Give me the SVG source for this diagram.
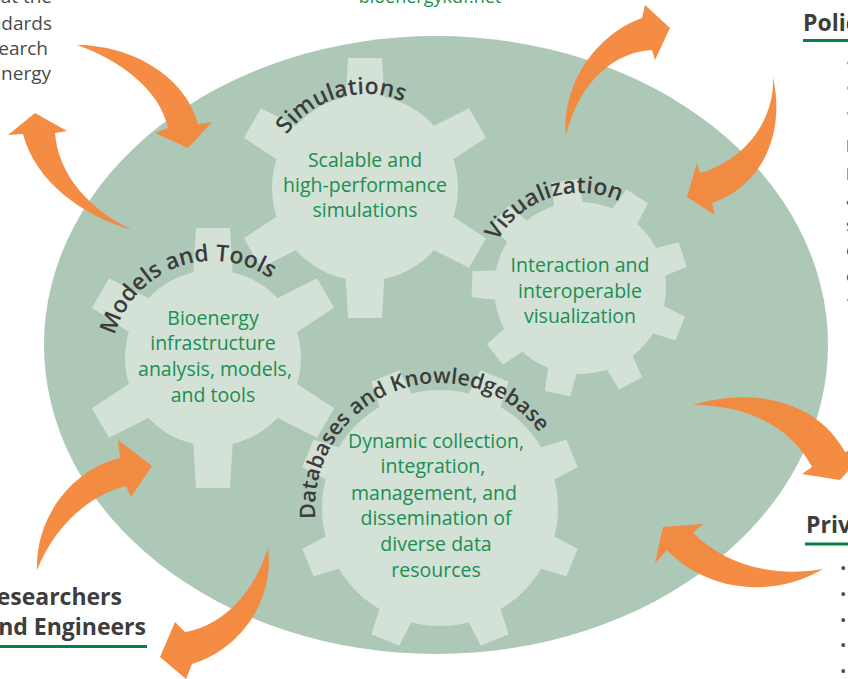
<svg xmlns="http://www.w3.org/2000/svg" xmlns:xlink="http://www.w3.org/1999/xlink" width="848" height="679" viewBox="0 0 848 679">
<style>
.gear{fill:#d3e1d7}
.arrow{fill:#f4883e;fill-opacity:0.97}
.body{font-family:"Open Sans","Noto Sans",sans-serif;font-size:19.5px;fill:#1b8f4f;text-anchor:middle}
.lbl{font-family:"Open Sans","Noto Sans",sans-serif;font-size:23px;font-weight:600;fill:#3b3b3b;text-anchor:middle}
.side{font-family:"Open Sans","Noto Sans",sans-serif;font-size:19px;fill:#4a4a4a}
.head{font-family:"Open Sans","Noto Sans",sans-serif;font-size:23px;font-weight:700;fill:#3d3d3d}
.rule{stroke:#0b8046;stroke-width:3}
</style>
<defs>
<polygon id="tS" points="345,108 348,58 382,58 385,108"/>
<polygon id="tM" points="193,278 196,228 230,228 233,278"/>
<polygon id="tV" points="565,210 567,180 593,180 595,210"/>
<polygon id="tD" points="422,400 425,365 455,365 458,400"/>
<path id="pS" d="M271.8,214.7 A97,97 0 0,1 458.2,161.3"/>
<path id="pM" d="M117,398 A102,102 0 0,1 309,328"/>
<path id="pV" d="M489.6,317.4 A95,95 0 0,1 670.4,258.6"/>
<path id="pD" d="M323.3,552.8 A125,125 0 0,1 556.7,463.2"/>
</defs>
<rect width="848" height="679" fill="#ffffff"/>
<ellipse id="hub" cx="436" cy="345" rx="392" ry="309" fill="#adc8b7"/>

<g id="side-texts">
<text class="side" x="52" y="3" text-anchor="end">at the</text>
<text class="side" x="52" y="30" text-anchor="end">ndards</text>
<text class="side" x="48" y="55" text-anchor="end">earch</text>
<text class="side" x="51" y="80" text-anchor="end">nergy</text>
<text class="body" x="430" y="3" style="font-size:18px">bioenergykdf.net</text>
</g>

<g id="policymakers">
<text class="head" x="803" y="31">Polic</text>
<line class="rule" x1="803" y1="40.5" x2="848" y2="40.5"/>
<g class="side" style="font-size:17px">
<text x="846" y="69">•</text>
<text x="846" y="94">•</text>
<text x="846" y="119">•</text>
<text x="846" y="152">l</text>
<text x="846" y="180">l</text>
<text x="846" y="205">a</text>
<text x="846" y="231">s</text>
<text x="846" y="256">c</text>
<text x="846" y="282">c</text>
<text x="846" y="306">·</text>
</g>
</g>

<g id="private">
<text class="head" x="806" y="533">Priv</text>
<line class="rule" x1="805" y1="544" x2="848" y2="544"/>
<g class="side" style="font-size:17px">
<text x="840" y="574">•</text>
<text x="840" y="600">•</text>
<text x="840" y="626">•</text>
<text x="840" y="651">•</text>
<text x="840" y="677">•</text>
</g>
</g>

<g id="researchers">
<text class="head" x="122" y="605" text-anchor="end">esearchers</text>
<text class="head" x="146" y="635" text-anchor="end">nd Engineers</text>
<line class="rule" x1="0" y1="646.5" x2="147" y2="646.5"/>
</g>

<g id="gear-simulations">
<circle class="gear" cx="365" cy="188" r="93"/>
<use href="#tS" class="gear"/>
<use href="#tS" class="gear" transform="rotate(60 365 188)"/>
<use href="#tS" class="gear" transform="rotate(120 365 188)"/>
<use href="#tS" class="gear" transform="rotate(180 365 188)"/>
<use href="#tS" class="gear" transform="rotate(240 365 188)"/>
<use href="#tS" class="gear" transform="rotate(300 365 188)"/>
</g>
<g id="gear-models">
<circle class="gear" cx="213" cy="358" r="88"/>
<use href="#tM" class="gear"/>
<use href="#tM" class="gear" transform="rotate(60 213 358)"/>
<use href="#tM" class="gear" transform="rotate(120 213 358)"/>
<use href="#tM" class="gear" transform="rotate(180 213 358)"/>
<use href="#tM" class="gear" transform="rotate(240 213 358)"/>
<use href="#tM" class="gear" transform="rotate(300 213 358)"/>
</g>
<g id="gear-visualization">
<circle class="gear" cx="580" cy="288" r="86"/>
<use href="#tV" class="gear" transform="rotate(-8 580 288)"/>
<use href="#tV" class="gear" transform="rotate(32 580 288)"/>
<use href="#tV" class="gear" transform="rotate(72 580 288)"/>
<use href="#tV" class="gear" transform="rotate(112 580 288)"/>
<use href="#tV" class="gear" transform="rotate(152 580 288)"/>
<use href="#tV" class="gear" transform="rotate(192 580 288)"/>
<use href="#tV" class="gear" transform="rotate(232 580 288)"/>
<use href="#tV" class="gear" transform="rotate(272 580 288)"/>
<use href="#tV" class="gear" transform="rotate(312 580 288)"/>
</g>
<g id="gear-databases">
<circle class="gear" cx="440" cy="508" r="118"/>
<use href="#tD" class="gear" transform="rotate(22.5 440 508)"/>
<use href="#tD" class="gear" transform="rotate(67.5 440 508)"/>
<use href="#tD" class="gear" transform="rotate(112.5 440 508)"/>
<use href="#tD" class="gear" transform="rotate(157.5 440 508)"/>
<use href="#tD" class="gear" transform="rotate(202.5 440 508)"/>
<use href="#tD" class="gear" transform="rotate(247.5 440 508)"/>
<use href="#tD" class="gear" transform="rotate(292.5 440 508)"/>
<use href="#tD" class="gear" transform="rotate(337.5 440 508)"/>
</g>

<g id="labels">
<text class="lbl"><textPath href="#pS" startOffset="50%">Simulations</textPath></text>
<text class="lbl"><textPath href="#pM" startOffset="50%">Models and Tools</textPath></text>
<text class="lbl"><textPath href="#pV" startOffset="50%">Visualization</textPath></text>
<text class="lbl" style="font-size:21.5px"><textPath href="#pD" startOffset="50%">Databases and Knowledgebase</textPath></text>
</g>

<g id="descriptions">
<text class="body" x="365" y="167">Scalable and</text>
<text class="body" x="365" y="192">high-performance</text>
<text class="body" x="365" y="217">simulations</text>
<text class="body" x="213" y="325">Bioenergy</text>
<text class="body" x="213" y="350">infrastructure</text>
<text class="body" x="215" y="376">analysis, models,</text>
<text class="body" x="213" y="402">and tools</text>
<text class="body" x="580" y="272">Interaction and</text>
<text class="body" x="580" y="298">interoperable</text>
<text class="body" x="580" y="323">visualization</text>
<text class="body" x="436" y="448">Dynamic collection,</text>
<text class="body" x="433" y="473">integration,</text>
<text class="body" x="434" y="500">management, and</text>
<text class="body" x="436" y="525">dissemination of</text>
<text class="body" x="436" y="551">diverse data</text>
<text class="body" x="436" y="577">resources</text>
</g>

<g id="connectors">
<path class="arrow" d="M77,45 C130,45 185,75 198,124 L212,122 L188,148 L155,133 L168,128 C160,90 120,60 77,45 Z"/>
<path class="arrow" d="M132,230 C80,215 35,180 23,134 L8,135 L35,113 L67,131 L55,133 C58,175 90,210 132,230 Z"/>
<path class="arrow" d="M566,135 C562,85 595,35 642,18 L645,5 L670,28 L655,60 L652,50 C615,52 580,80 566,135 Z"/>
<path class="arrow" d="M773,77 C785,130 765,185 712,203 L715,215 L687,197 L697,163 L700,173 C745,160 775,120 773,77 Z"/>
<path class="arrow" d="M693,405 C760,385 820,405 845,452 L872,444 L840,480 L802,474 L812,467 C790,425 745,405 693,405 Z"/>
<path class="arrow" d="M823,569 C770,600 705,590 667,550 L655,563 L663,527 L703,524 L693,533 C725,565 775,578 823,569 Z"/>
<path class="arrow" d="M37,570 C35,520 70,470 120,458 L118,440 L152,466 L131,497 L126,486 C90,495 55,525 37,570 Z"/>
<path class="arrow" d="M268,548 C275,600 240,650 192,664 L186,679 L160,657 L175,622 L185,632 C225,625 255,590 268,548 Z"/>
</g>
</svg>
